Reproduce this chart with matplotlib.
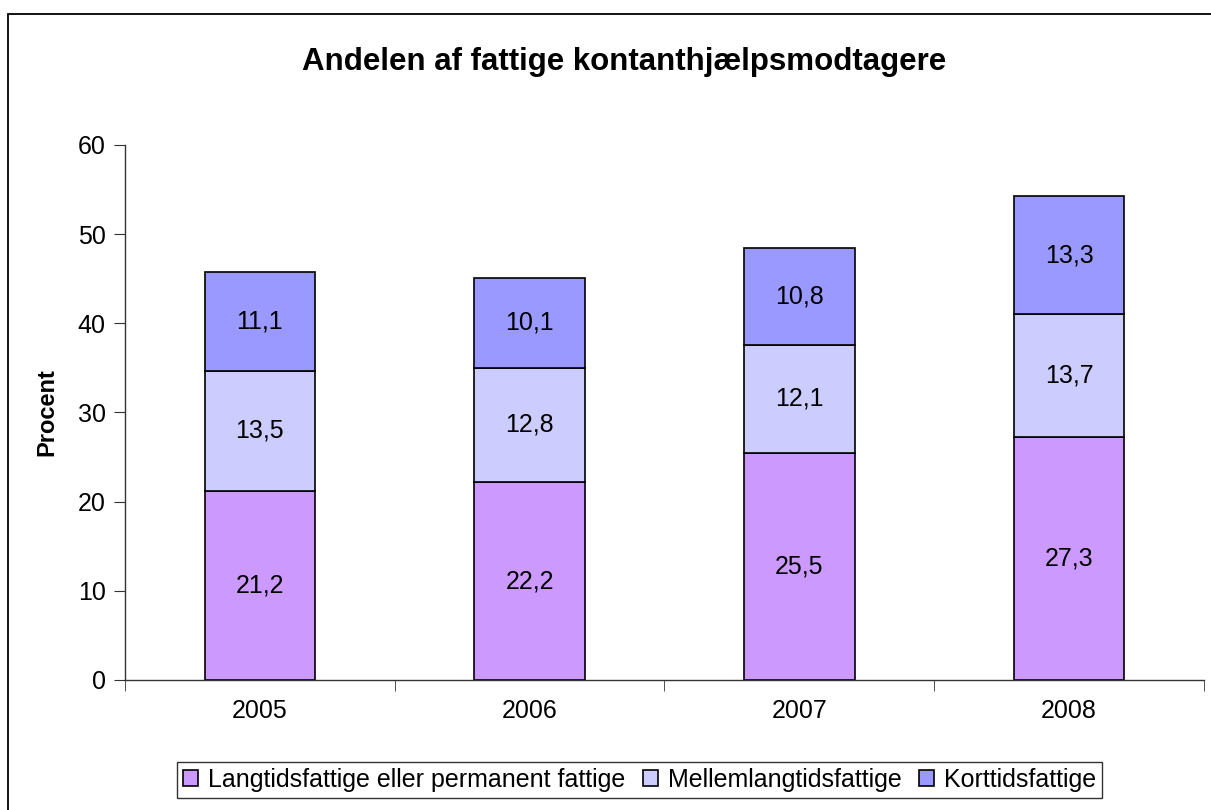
import matplotlib
matplotlib.use("Agg")
import matplotlib.pyplot as plt
import numpy as np
from matplotlib.patches import Rectangle

plt.rcParams['font.family'] = ['Liberation Sans', 'DejaVu Sans']

years = ["2005", "2006", "2007", "2008"]
langtid = [21.2, 22.2, 25.5, 27.3]
mellem = [13.5, 12.8, 12.1, 13.7]
korttid = [11.1, 10.1, 10.8, 13.3]
series_names = ["Langtidsfattige eller permanent fattige", "Mellemlangtidsfattige", "Korttidsfattige"]
colors = ["#CC99FF", "#CCCCFF", "#9999FF"]

fig = plt.figure(figsize=(12.11, 8.10), dpi=100)
ax = fig.add_axes([0.1032, 0.1605, 0.891, 0.6605])

# outer frame of the chart
fig.patches.append(Rectangle((8 / 1211, -0.1), 1.2, 0.9827 + 0.1, transform=fig.transFigure,
                             fill=False, edgecolor="black", linewidth=1.3, clip_on=False))

x = np.arange(len(years))
bottom = np.zeros(len(years))
for vals, name, col in zip([langtid, mellem, korttid], series_names, colors):
    vals = np.array(vals)
    ax.bar(x, vals, width=0.41, bottom=bottom, color=col, edgecolor="black", linewidth=1.2, label=name)
    for xi, b, v in zip(x, bottom, vals):
        ax.text(xi, b + v / 2, f"{v:.1f}".replace(".", ","), ha="center", va="center", fontsize=18)
    bottom += vals

ax.set_xlim(-0.5, 3.5)
ax.set_ylim(0, 60)
ax.set_yticks(range(0, 61, 10))
ax.set_xticks(x)
ax.set_xticklabels(years)
ax.set_xticks(np.arange(-0.5, 4.0, 1), minor=True)
ax.tick_params(axis="x", which="major", length=0, labelsize=18, pad=14)
ax.tick_params(axis="x", which="minor", length=8, direction="out", color="#333333")
ax.tick_params(axis="y", length=8, direction="out", labelsize=18, pad=6, color="#333333")
for s in ["top", "right"]:
    ax.spines[s].set_visible(False)
for s in ["left", "bottom"]:
    ax.spines[s].set_color("#333333")
    ax.spines[s].set_linewidth(1.0)

ax.set_ylabel("Procent", fontsize=17, fontweight="bold", labelpad=14)
fig.text(0.515, 0.924, "Andelen af fattige kontanthjælpsmodtagere", ha="center", va="center",
         fontsize=22.5, fontweight="bold")

leg = fig.legend(loc="center", bbox_to_anchor=(0.528, 0.037), ncol=3, fontsize=18,
                 frameon=True, fancybox=False, edgecolor="black", handlelength=0.6,
                 handleheight=0.6, handletextpad=0.4, columnspacing=0.7, borderpad=0.25,
                 borderaxespad=0)
leg.get_frame().set_linewidth(1.0)

fig.savefig("out.png", dpi=100)
